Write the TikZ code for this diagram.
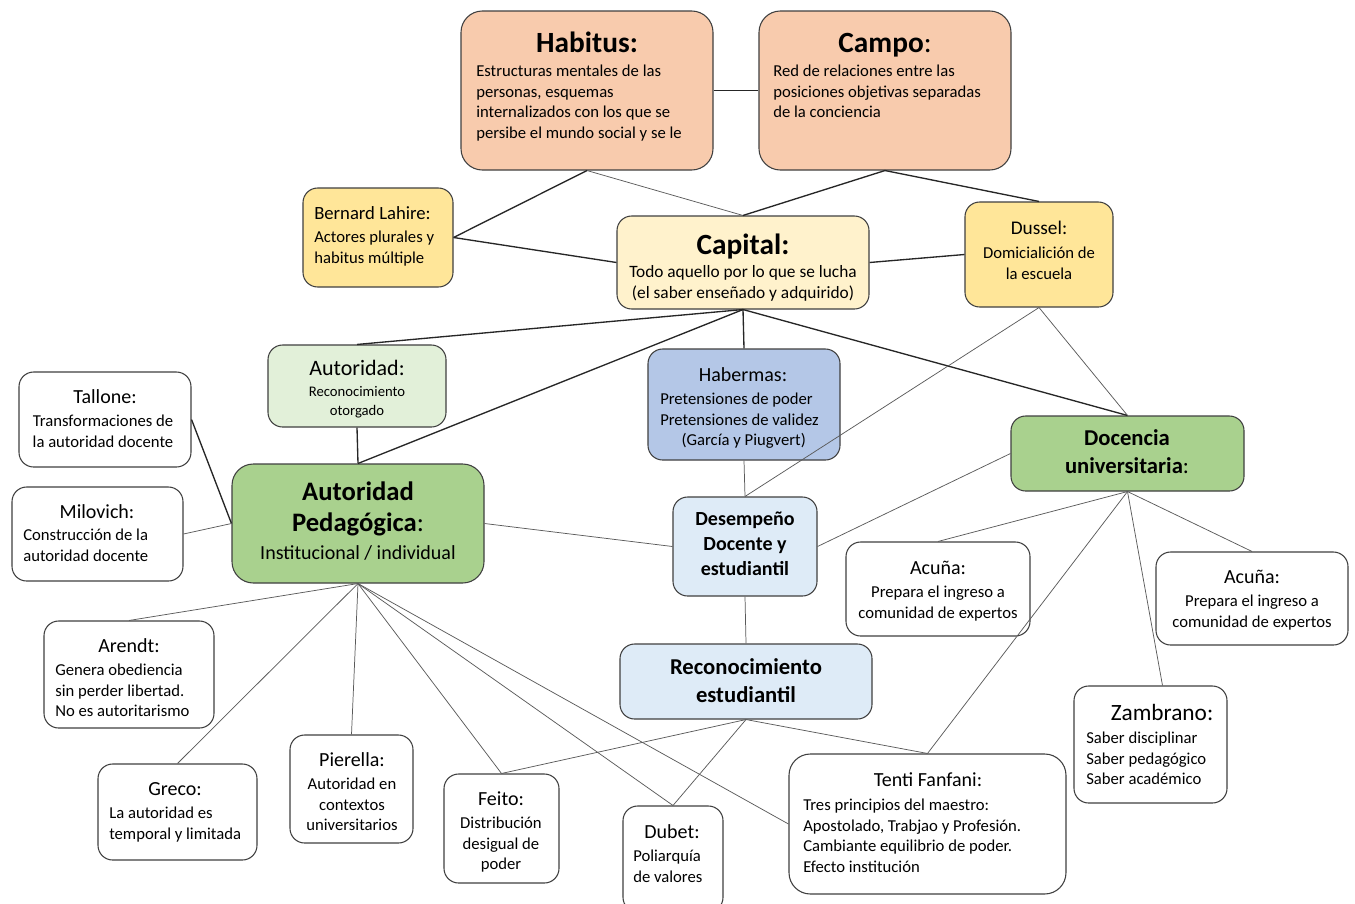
\documentclass[tikz,border=0pt]{standalone}
\usepackage{fontspec}
\setmainfont{Carlito}
\usetikzlibrary{fit,calc}
\definecolor{peach}{HTML}{F8CBAD}
\definecolor{gold}{HTML}{FFE699}
\definecolor{cream}{HTML}{FFF2CC}
\definecolor{palegreen}{HTML}{E2F0D9}
\definecolor{midgreen}{HTML}{A9D18E}
\definecolor{steelblue}{HTML}{B4C7E7}
\definecolor{paleblue}{HTML}{DEEBF7}
\definecolor{edge}{HTML}{404040}
\definecolor{thinline}{HTML}{5A5A5A}
\tikzset{
  box/.style={draw=edge, line width=0.8pt, rounded corners=11pt, inner sep=0pt},
  bigbox/.style={box, rounded corners=16pt},
  ttlbig/.style={font=\fontsize{22}{26}\selectfont\bfseries, inner sep=0pt, anchor=base},
  ttl/.style={font=\fontsize{15}{18}\selectfont, inner sep=0pt, anchor=base},
  body/.style={font=\fontsize{12.5}{15.6}\selectfont, inner sep=0pt, yshift=-2.6pt},
  bodyl/.style={body, align=left, anchor=north west},
  bodyc/.style={body, align=center, anchor=north},
  strong/.style={draw=black!85, line width=1pt},
  weak/.style={draw=thinline, line width=0.55pt},
}
\begin{document}
\begin{tikzpicture}[x=0.75pt,y=-0.75pt]
\useasboundingbox (0,0) rectangle (1355,903);
\fill[white] (0,0) rectangle (1355,903);

% ---------- boxes ----------
\node[bigbox, fill=peach, fit={(461,11)(713,170)}] (habitus) {};
\node[bigbox, fill=peach, fit={(759,11)(1011,170)}] (campo) {};
\node[box, fill=gold, fit={(303,188)(453,287)}] (lahire) {};
\node[box, fill=cream, fit={(617,216)(869,309)}] (capital) {};
\node[box, fill=gold, fit={(965,202)(1113,307)}] (dussel) {};
\node[box, fill=palegreen, fit={(268,345)(446,427)}] (autoridad) {};
\node[box, fill=steelblue, fit={(648,349)(840,460)}] (habermas) {};
\node[box, fill=white, fit={(19,372)(191,467)}] (tallone) {};
\node[box, fill=white, fit={(12,487)(183,581)}] (milovich) {};
\node[bigbox, fill=midgreen, fit={(232,464)(484,583)}] (autped) {};
\node[box, fill=paleblue, fit={(673,497)(817,596)}] (desemp) {};
\node[box, fill=paleblue, fit={(620,644)(872,719)}] (recon) {};
\node[box, fill=midgreen, fit={(1011,416)(1244,491)}] (docencia) {};
\node[box, fill=white, fit={(846,542)(1030,636)}] (acuna1) {};
\node[box, fill=white, fit={(1156,552)(1348,645)}] (acuna2) {};
\node[box, fill=white, fit={(44,621)(214,728)}] (arendt) {};
\node[box, fill=white, fit={(1074,686)(1227,803)}] (zambrano) {};
\node[box, fill=white, fit={(98,764)(257,860)}] (greco) {};
\node[box, fill=white, fit={(290,735)(413,843)}] (pierella) {};
\node[box, fill=white, fit={(444,774)(559,883)}] (feito) {};
\node[box, fill=white, fit={(623,806)(723,912)}] (dubet) {};
\node[bigbox, fill=white, fit={(789,754)(1066,894)}] (tenti) {};

% ---------- texts ----------
\node[ttlbig] (habitusT) at (587,52) {Habitus:};
\node[bodyl] (habitusB) at (476,61) {Estructuras mentales de las\\personas, esquemas\\internalizados con los que se\\persibe el mundo social y se le};
\node[ttlbig] (campoT) at (885,52) {Campo\mdseries:};
\node[bodyl] (campoB) at (773,61) {Red de relaciones entre las\\posiciones objetivas separadas\\de la conciencia};

\node[ttl, anchor=base west, font=\fontsize{14}{17}\selectfont] (lahireT) at (314,219) {Bernard Lahire:};
\node[bodyl] (lahireB) at (314,227) {Actores plurales y\\habitus múltiple};

\node[ttlbig] (capitalT) at (743,254) {Capital:};
\node[bodyc, font=\fontsize{13}{15.8}\selectfont] (capitalB) at (743,262) {Todo aquello por lo que se lucha\\(el saber enseñado y adquirido)};

\node[ttl, font=\fontsize{14.5}{17}\selectfont] (dusselT) at (1039,234) {Dussel:};
\node[bodyc] (dusselB) at (1039,243) {Domicialición de\\la escuela};

\node[ttl, font=\fontsize{16.5}{19}\selectfont] (autoridadT) at (357,375) {Autoridad:};
\node[bodyc, font=\fontsize{11}{14.25}\selectfont] (autoridadB) at (357,383) {Reconocimiento\\otorgado};

\node[ttl] (habermasT) at (743,381) {Habermas:};
\node[bodyl] (habermasB) at (660,389) {Pretensiones de poder\\Pretensiones de validez\\\hspace*{16pt}(García y Piugvert)};

\node[ttl] (talloneT) at (105,403) {Tallone:};
\node[bodyc] (talloneB) at (103,411) {Transformaciones de\\la autoridad docente};

\node[ttl] (milovichT) at (97,518) {Milovich:};
\node[bodyl] (milovichB) at (23,525) {Construcción de la\\autoridad docente};

\node[ttl, font=\fontsize{20}{24}\selectfont\bfseries] (autpedT1) at (358,500) {Autoridad};
\node[ttl, font=\fontsize{20}{24}\selectfont\bfseries] (autpedT2) at (358,531) {Pedagógica\mdseries:};
\node[ttl] (autpedB) at (358,559) {Institucional / individual};

\node[bodyc, font=\fontsize{15}{18.75}\selectfont\bfseries] (desempT) at (745,508) {Desempeño\\Docente y\\estudiantil};
\node[bodyc, font=\fontsize{17}{21}\selectfont\bfseries] (reconT) at (746,655) {Reconocimiento\\estudiantil};
\node[bodyc, font=\fontsize{17}{21}\selectfont\bfseries] (docenciaT) at (1127,426) {Docencia\\universitaria\mdseries:};

\node[ttl] (acuna1T) at (938,574) {Acuña:};
\node[bodyc] (acuna1B) at (938,582) {Prepara el ingreso a\\comunidad de expertos};
\node[ttl] (acuna2T) at (1252,583) {Acuña:};
\node[bodyc] (acuna2B) at (1252,591) {Prepara el ingreso a\\comunidad de expertos};

\node[ttl] (arendtT) at (129,652) {Arendt:};
\node[bodyl] (arendtB) at (55,660) {Genera obediencia\\sin perder libertad.\\No es autoritarismo};

\node[ttl, font=\fontsize{17.5}{20}\selectfont] (zambranoT) at (1162,720) {Zambrano:};
\node[bodyl] (zambranoB) at (1086,728) {Saber disciplinar\\Saber pedagógico\\Saber académico};

\node[ttl] (grecoT) at (175,795) {Greco:};
\node[bodyl] (grecoB) at (109,803) {La autoridad es\\temporal y limitada};

\node[ttl] (pierellaT) at (352,766) {Pierella:};
\node[bodyc] (pierellaB) at (352,774) {Autoridad en\\contextos\\universitarios};

\node[ttl] (feitoT) at (501,805) {Feito:};
\node[bodyc] (feitoB) at (501,813) {Distribución\\desigual de\\poder};

\node[ttl] (dubetT) at (672,838) {Dubet:};
\node[bodyl] (dubetB) at (633,846) {Poliarquía\\de valores};

\node[ttl] (tentiT) at (928,786) {Tenti Fanfani:};
\node[bodyl] (tentiB) at (803,795) {Tres principios del maestro:\\Apostolado, Trabjao y Profesión.\\Cambiante equilibrio de poder.\\Efecto institución};

% ---------- connectors ----------
\draw[strong] (habitus.east) -- (campo.west);
\draw[strong] (habitus.south) -- (lahire.east);
\draw[weak]   (habitus.south) -- (capital.north);
\draw[strong] (campo.south) -- (capital.north);
\draw[strong] (campo.south) -- (dussel.north);
\draw[strong] (lahire.east) -- (capital.west);
\draw[strong] (capital.east) -- (dussel.west);
\draw[strong] (capital.south) -- (autoridad.north);
\draw[strong] (capital.south) -- (autped.north);
\draw[strong] (capital.south) -- (habermas.north);
\draw[strong] (capital.south) -- (docencia.north);
\draw[weak]   (dussel.south) -- (docencia.north);
\draw[weak]   (dussel.south) -- (desemp.north);
\draw[strong] (autoridad.south) -- (autped.north);
\draw[weak]   (habermas.south) -- (desemp.north);
\draw[strong] (tallone.east) -- (autped.west);
\draw[weak]   (milovich.east) -- (autped.west);
\draw[weak]   (autped.east) -- (desemp.west);
\draw[weak]   (docencia.west) -- (desemp.east);
\draw[weak]   (desemp.south) -- (recon.north);
\draw[weak]   (docencia.south) -- (acuna1.north);
\draw[weak]   (docencia.south) -- (acuna2.north);
\draw[weak]   (docencia.south) -- ($(zambrano.north)+(12,0)$);
\draw[weak]   (docencia.south) -- (tenti.north);
\draw[weak]   (autped.south) -- (arendt.north);
\draw[weak]   (autped.south) -- (greco.north);
\draw[weak]   (autped.south) -- (pierella.north);
\draw[weak]   (autped.south) -- (feito.north);
\draw[weak]   (autped.south) -- (dubet.north);
\draw[weak]   (autped.south) -- (tenti.west);
\draw[weak]   (recon.south) -- (feito.north);
\draw[weak]   (recon.south) -- (dubet.north);
\draw[weak]   (recon.south) -- (tenti.north);
\end{tikzpicture}
\end{document}
